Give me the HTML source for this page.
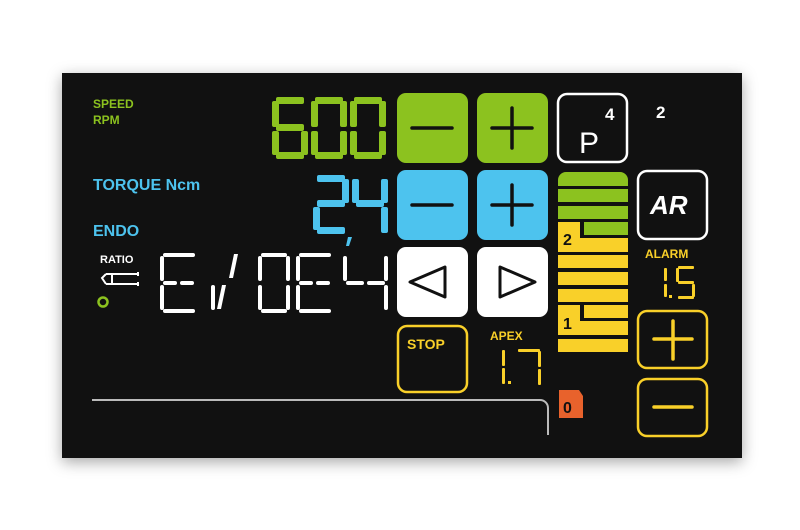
<!DOCTYPE html>
<html><head><meta charset="utf-8"><style>
html,body{margin:0;padding:0;background:#fff;}
body{width:800px;height:530px;position:relative;overflow:hidden;font-family:"Liberation Sans",sans-serif;}
.panel{position:absolute;left:62px;top:73px;width:680px;height:385px;background:#111;box-shadow:0 4px 14px rgba(0,0,0,0.35);}
.t{position:absolute;font-weight:bold;white-space:nowrap;line-height:1;}
</style></head><body>
<div class="panel"></div>
<svg style="position:absolute;left:0;top:0" width="800" height="530" viewBox="0 0 800 530">
<g font-family="Liberation Sans, sans-serif" font-weight="bold">
<text x="93" y="108" fill="#8cc21f" font-size="12">SPEED</text>
<text x="93" y="124" fill="#8cc21f" font-size="12">RPM</text>
<text x="93" y="190" fill="#4dc3ee" font-size="16">TORQUE Ncm</text>
<text x="93" y="236" fill="#4dc3ee" font-size="16">ENDO</text>
<text x="100" y="263" fill="#fff" font-size="11">RATIO</text>
</g>
<!-- handpiece icon -->
<g stroke="#fff" stroke-width="2" fill="none">
<path d="M106 274 h32 M106 284 h32 M138 272 v4 M138 282 v4 M106 274 l-4 4 l4 6 M112 274 v10"/>
</g>
<circle cx="103" cy="302" r="4.5" fill="none" stroke="#8cc21f" stroke-width="2.5"/>

<!-- 600 green -->
<g fill="#8cc21f">
<!-- 6 at 272 -->
<rect x="276" y="97" width="28" height="7" rx="2"/><rect x="301" y="131" width="7" height="24" rx="2"/><rect x="276" y="152" width="28" height="7" rx="2"/><rect x="272" y="131" width="7" height="24" rx="2"/><rect x="272" y="101" width="7" height="26" rx="2"/><rect x="276" y="124" width="28" height="7" rx="2"/>
<!-- 0 at 311 -->
<rect x="315" y="97" width="28" height="7" rx="2"/><rect x="340" y="101" width="7" height="26" rx="2"/><rect x="340" y="131" width="7" height="24" rx="2"/><rect x="315" y="152" width="28" height="7" rx="2"/><rect x="311" y="131" width="7" height="24" rx="2"/><rect x="311" y="101" width="7" height="26" rx="2"/>
<!-- 0 at 350 -->
<rect x="354" y="97" width="28" height="7" rx="2"/><rect x="379" y="101" width="7" height="26" rx="2"/><rect x="379" y="131" width="7" height="24" rx="2"/><rect x="354" y="152" width="28" height="7" rx="2"/><rect x="350" y="131" width="7" height="24" rx="2"/><rect x="350" y="101" width="7" height="26" rx="2"/>
</g>
<!-- 24, blue -->
<g fill="#4dc3ee">
<!-- 2 at 313 -->
<rect x="317" y="175" width="28" height="7" rx="2"/><rect x="342" y="179" width="7" height="24" rx="2"/><rect x="317" y="200" width="28" height="7" rx="2"/><rect x="313" y="207" width="7" height="23" rx="2"/><rect x="317" y="227" width="28" height="7" rx="2"/>
<!-- 4 at 352 -->
<rect x="352" y="179" width="7" height="24" rx="2"/><rect x="356" y="200" width="28" height="7" rx="2"/><rect x="381" y="179" width="7" height="24" rx="2"/><rect x="381" y="207" width="7" height="26" rx="2"/>
<path d="M348 237 l4 0 l-3 9 l-3 0z"/>
</g>
<!-- EV0E4 white thin -->
<g fill="#fff">
<!-- E 160-198 -->
<rect x="163" y="253" width="32" height="4" rx="2"/><rect x="160" y="256" width="4" height="25" rx="2"/><rect x="163" y="281" width="14" height="4" rx="2"/><rect x="180" y="281" width="14" height="4" rx="2"/><rect x="160" y="285" width="4" height="25" rx="2"/><rect x="163" y="309" width="32" height="4" rx="2"/>
<!-- V -->
<rect x="211" y="285" width="4" height="25" rx="2"/><path d="M222 285 l4 0 l-5 24 l-4 0z"/><path d="M234 254 l4 0 l-5 24 l-4 0z"/>
<!-- 0 258-290 -->
<rect x="261" y="253" width="26" height="4" rx="2"/><rect x="258" y="256" width="4" height="25" rx="2"/><rect x="286" y="256" width="4" height="25" rx="2"/><rect x="258" y="285" width="4" height="25" rx="2"/><rect x="286" y="285" width="4" height="25" rx="2"/><rect x="261" y="309" width="26" height="4" rx="2"/>
<!-- E 296-334 -->
<rect x="299" y="253" width="32" height="4" rx="2"/><rect x="296" y="256" width="4" height="25" rx="2"/><rect x="299" y="281" width="14" height="4" rx="2"/><rect x="316" y="281" width="14" height="4" rx="2"/><rect x="296" y="285" width="4" height="25" rx="2"/><rect x="299" y="309" width="32" height="4" rx="2"/>
<!-- 4 343-388 -->
<rect x="343" y="256" width="4" height="25" rx="2"/><rect x="346" y="281" width="18" height="4" rx="2"/><rect x="367" y="281" width="18" height="4" rx="2"/><rect x="384" y="256" width="4" height="25" rx="2"/><rect x="384" y="285" width="4" height="25" rx="2"/>
</g>

<!-- buttons -->
<rect x="397" y="93" width="71" height="70" rx="9" fill="#8cc21f"/>
<rect x="477" y="93" width="71" height="70" rx="9" fill="#8cc21f"/>
<rect x="397" y="170" width="71" height="70" rx="9" fill="#4dc3ee"/>
<rect x="477" y="170" width="71" height="70" rx="9" fill="#4dc3ee"/>
<rect x="397" y="247" width="71" height="70" rx="9" fill="#fff"/>
<rect x="477" y="247" width="71" height="70" rx="9" fill="#fff"/>
<g stroke="#111" stroke-width="3.5" stroke-linecap="round" fill="none">
<path d="M412 128 h40 M492 128 h40 M512 108 v40 M412 205 h40 M492 205 h40 M512 185 v40"/>
</g>
<g stroke="#111" stroke-width="3" fill="none" stroke-linejoin="round">
<path d="M445 267 v30 l-35 -15z"/><path d="M500 267 v30 l35 -15z"/>
</g>

<!-- P box -->
<rect x="558" y="94" width="69" height="68" rx="9" fill="none" stroke="#fff" stroke-width="2.5"/>
<text x="579" y="153" fill="#fff" font-size="30" font-family="Liberation Sans, sans-serif">P</text>
<text x="605" y="120" fill="#fff" font-size="17" font-weight="bold" font-family="Liberation Sans, sans-serif">4</text>
<text x="656" y="118" fill="#fff" font-size="17" font-weight="bold" font-family="Liberation Sans, sans-serif">2</text>

<!-- bars -->
<g fill="#8cc21f">
<path d="M558 186 v-6 a8 8 0 0 1 8 -8 h54 a8 8 0 0 1 8 8 v6z"/>
<rect x="558" y="189" width="70" height="13"/>
<rect x="558" y="206" width="70" height="13"/>
<rect x="584" y="222" width="44" height="13"/>
</g>
<g fill="#f9d029">
<path d="M558 222 h22 v16 h48 v14 h-70z"/>
<rect x="558" y="255" width="70" height="13"/>
<rect x="558" y="272" width="70" height="13"/>
<rect x="558" y="289" width="70" height="13"/>
<path d="M558 305 h22 v16 h48 v14 h-70z"/>
<rect x="584" y="305" width="44" height="13"/>
<rect x="558" y="339" width="70" height="13"/>
</g>
<g fill="#111" font-family="Liberation Sans, sans-serif" font-weight="bold" font-size="16">
<text x="563" y="245">2</text><text x="563" y="329">1</text>
</g>

<!-- AR -->
<rect x="638" y="171" width="69" height="68" rx="9" fill="none" stroke="#fff" stroke-width="2.5"/>
<text x="650" y="214" fill="#fff" font-size="26" font-weight="bold" font-style="italic" font-family="Liberation Sans, sans-serif">AR</text>
<text x="645" y="258" fill="#f9d029" font-size="12" font-weight="bold" font-family="Liberation Sans, sans-serif">ALARM</text>
<!-- 1.5 -->
<g fill="#f9d029">
<rect x="664" y="268" width="3" height="13" rx="1"/><rect x="664" y="284" width="3" height="13" rx="1"/><rect x="669" y="295" width="3" height="3"/>
<rect x="678" y="266" width="16" height="3" rx="1"/><rect x="676" y="268" width="3" height="14" rx="1"/><rect x="678" y="281" width="16" height="3" rx="1"/><rect x="692" y="284" width="3" height="13" rx="1"/><rect x="678" y="296" width="16" height="3" rx="1"/>
</g>
<rect x="638" y="311" width="69" height="57" rx="9" fill="none" stroke="#f9d029" stroke-width="2.5"/>
<rect x="638" y="379" width="69" height="57" rx="9" fill="none" stroke="#f9d029" stroke-width="2.5"/>
<g stroke="#f9d029" stroke-width="3.5" stroke-linecap="round"><path d="M654 339 h38 M673 321 v38 M654 407 h38"/></g>

<!-- STOP -->
<rect x="398" y="326" width="69" height="66" rx="9" fill="none" stroke="#f9d029" stroke-width="2.5"/>
<text x="407" y="349" fill="#f9d029" font-size="14" font-weight="bold" font-family="Liberation Sans, sans-serif">STOP</text>
<text x="490" y="340" fill="#f9d029" font-size="12" font-weight="bold" font-family="Liberation Sans, sans-serif">APEX</text>
<!-- 1.7 -->
<g fill="#f9d029">
<rect x="502" y="350" width="3" height="16" rx="1"/><rect x="502" y="368" width="3" height="16" rx="1"/><rect x="508" y="381" width="3" height="3"/>
<rect x="518" y="349" width="22" height="3" rx="1"/><rect x="538" y="351" width="3" height="16" rx="1"/><rect x="538" y="369" width="3" height="16" rx="1"/>
</g>
<!-- 0 orange -->
<path d="M559 390 h20 l4 6 v22 h-24z" fill="#e8622c"/>
<text x="563" y="413" fill="#111" font-size="16" font-weight="bold" font-family="Liberation Sans, sans-serif">0</text>
<!-- line -->
<path d="M92 400 H540 a8 8 0 0 1 8 8 V435" fill="none" stroke="#bbb" stroke-width="2"/>
</svg>
</body></html>
